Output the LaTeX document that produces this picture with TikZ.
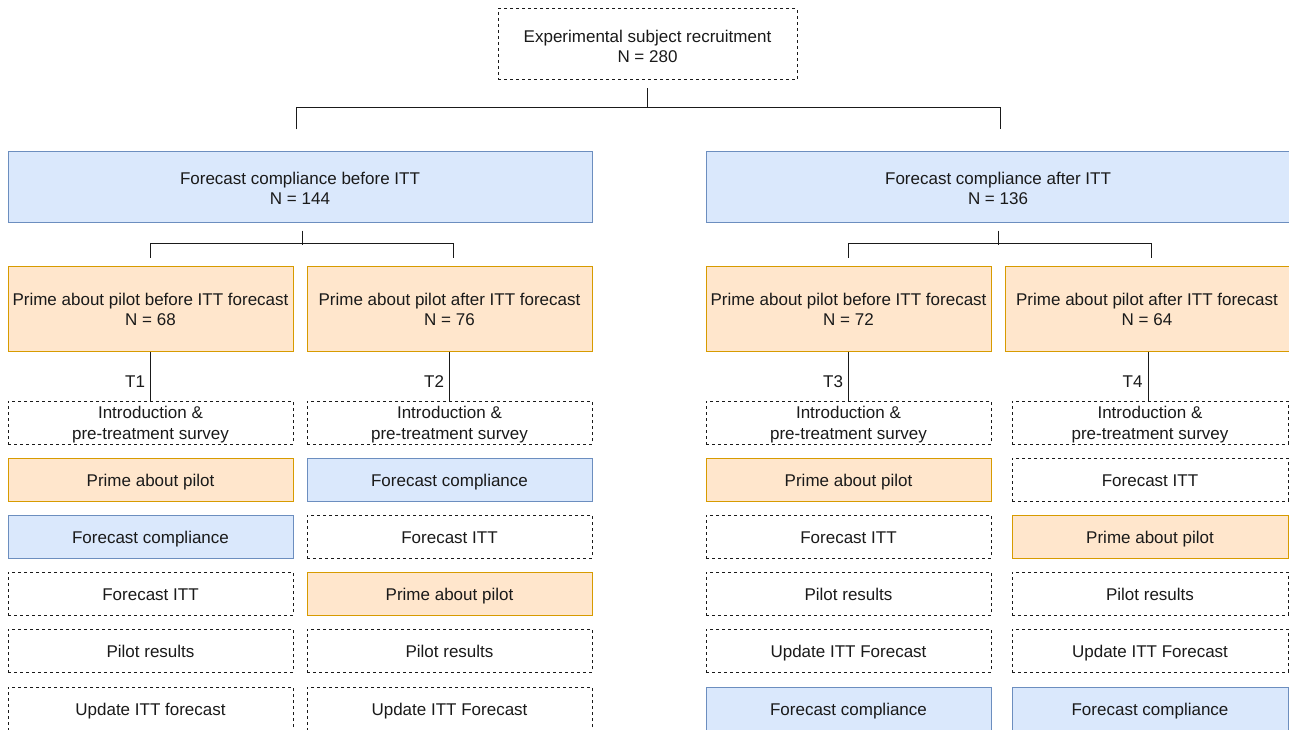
\documentclass[tikz,border=0pt]{standalone}
\usepackage{fontspec}
\setmainfont{Liberation Sans}
\usetikzlibrary{calc}
\definecolor{bfill}{HTML}{DAE8FC}
\definecolor{bdraw}{HTML}{6C8EBF}
\definecolor{ofill}{HTML}{FFE6CC}
\definecolor{odraw}{HTML}{D79B00}
\definecolor{ink}{HTML}{1A1A1A}
\tikzset{
  box/.style={rectangle, inner sep=0pt, align=center, font=\fontsize{17}{20.4}\selectfont, text=ink, line width=1pt},
  dbox/.style={box, draw=ink, dash pattern=on 3pt off 3pt},
  bbox/.style={box, draw=bdraw, fill=bfill},
  obox/.style={box, draw=odraw, fill=ofill},
  con/.style={line width=1pt, draw=ink},
  tlab/.style={font=\fontsize{17}{20.4}\selectfont, text=ink, inner sep=0pt},
  one/.style={text height=16pt, text depth=3pt},
  two/.style={text height=#1, text depth=0pt},
  wcol/.style={minimum width=285pt, minimum height=43pt, one},
  wcolb/.style={minimum width=276pt, minimum height=43pt, one},
  intro/.style={minimum height=43pt, two=33.2pt}
}
\begin{document}
\begin{tikzpicture}[x=1pt,y=-1pt]
\useasboundingbox (0,0) rectangle (1289,730);
\clip (0,0) rectangle (1289,730);
\fill[white] (0,0) rectangle (1289,730);

% top
\node[dbox, minimum width=299pt, minimum height=71pt, two=36.6pt] (top) at (647.5,44.5) {Experimental subject recruitment\\N = 280};

% blue groups
\node[bbox, minimum width=584pt, minimum height=70pt, two=35.6pt] (BL) at (300,187) {Forecast compliance before ITT\\N = 144};
\node[bbox, minimum width=584pt, minimum height=70pt, two=35.6pt] (BR) at (998,187) {Forecast compliance after ITT\\N = 136};

% orange groups
\node[obox, minimum width=285pt, minimum height=85pt, two=33.8pt] (O1) at (150.5,308.5) {Prime about pilot before ITT forecast\\N = 68};
\node[obox, minimum width=285pt, minimum height=85pt, two=33.8pt] (O2) at (449.5,308.5) {Prime about pilot after ITT forecast\\N = 76};
\node[obox, minimum width=285pt, minimum height=85pt, two=33.8pt] (O3) at (848.5,308.5) {Prime about pilot before ITT forecast\\N = 72};
\node[obox, minimum width=284pt, minimum height=85pt, two=33.8pt] (O4) at (1147,308.5) {Prime about pilot after ITT forecast\\N = 64};

% column 1
\node[dbox, wcol, intro] (c1r1) at (150.5,422.5) {Introduction \&\\pre-treatment survey};
\node[obox, wcol] (c1r2) at (150.5,479.5) {Prime about pilot};
\node[bbox, wcol] (c1r3) at (150.5,536.5) {Forecast compliance};
\node[dbox, wcol] (c1r4) at (150.5,593.5) {Forecast ITT};
\node[dbox, wcol] (c1r5) at (150.5,650.5) {Pilot results};
\node[dbox, wcol] (c1r6) at (150.5,708.5) {Update ITT forecast};

% column 2
\node[dbox, wcol, intro] (c2r1) at (449.5,422.5) {Introduction \&\\pre-treatment survey};
\node[bbox, wcol] (c2r2) at (449.5,479.5) {Forecast compliance};
\node[dbox, wcol] (c2r3) at (449.5,536.5) {Forecast ITT};
\node[obox, wcol] (c2r4) at (449.5,593.5) {Prime about pilot};
\node[dbox, wcol] (c2r5) at (449.5,650.5) {Pilot results};
\node[dbox, wcol] (c2r6) at (449.5,708.5) {Update ITT Forecast};

% column 3
\node[dbox, wcol, intro] (c3r1) at (848.5,422.5) {Introduction \&\\pre-treatment survey};
\node[obox, wcol] (c3r2) at (848.5,479.5) {Prime about pilot};
\node[dbox, wcol] (c3r3) at (848.5,536.5) {Forecast ITT};
\node[dbox, wcol] (c3r4) at (848.5,593.5) {Pilot results};
\node[dbox, wcol] (c3r5) at (848.5,650.5) {Update ITT Forecast};
\node[bbox, wcol] (c3r6) at (848.5,708.5) {Forecast compliance};

% column 4
\node[dbox, wcolb, intro] (c4r1) at (1150,422.5) {Introduction \&\\pre-treatment survey};
\node[dbox, wcolb] (c4r2) at (1150,479.5) {Forecast ITT};
\node[obox, wcolb] (c4r3) at (1150,536.5) {Prime about pilot};
\node[dbox, wcolb] (c4r4) at (1150,593.5) {Pilot results};
\node[dbox, wcolb] (c4r5) at (1150,650.5) {Update ITT Forecast};
\node[bbox, wcolb] (c4r6) at (1150,708.5) {Forecast compliance};

% connectors: top split
\draw[con] ($(top.south)+(0,8)$) -- ($(top.south)+(0,28)$);
\draw[con] ($(BL.north)+(-4,-22)$) -- ($(BL.north)+(-4,-44)$) -- ($(BR.north)+(2,-44)$) -- ($(BR.north)+(2,-22)$);

% left split
\draw[con] ($(BL.south)+(2,8)$) -- ($(BL.south)+(2,22)$);
\draw[con] ($(O1.north)+(0,-8)$) -- ($(O1.north)+(0,-22)$) -- ($(O2.north)+(3.5,-22)$) -- ($(O2.north)+(3.5,-8)$);

% right split
\draw[con] ($(BR.south)+(0,8)$) -- ($(BR.south)+(0,22)$);
\draw[con] ($(O3.north)+(0,-8)$) -- ($(O3.north)+(0,-22)$) -- ($(O4.north)+(4,-22)$) -- ($(O4.north)+(4,-8)$);

% treatment lines
\draw[con] (O1.south) -- (O1.south |- c1r1.north) node[tlab, pos=0.62, left=5pt] {T1};
\draw[con] (O2.south) -- (O2.south |- c2r1.north) node[tlab, pos=0.62, left=5pt] {T2};
\draw[con] (O3.south) -- (O3.south |- c3r1.north) node[tlab, pos=0.62, left=5pt] {T3};
\draw[con] ($(O4.south)+(1,0)$) -- ($(O4.south |- c4r1.north)+(1,0)$) node[tlab, pos=0.62, left=5pt] {T4};
\end{tikzpicture}
\end{document}
